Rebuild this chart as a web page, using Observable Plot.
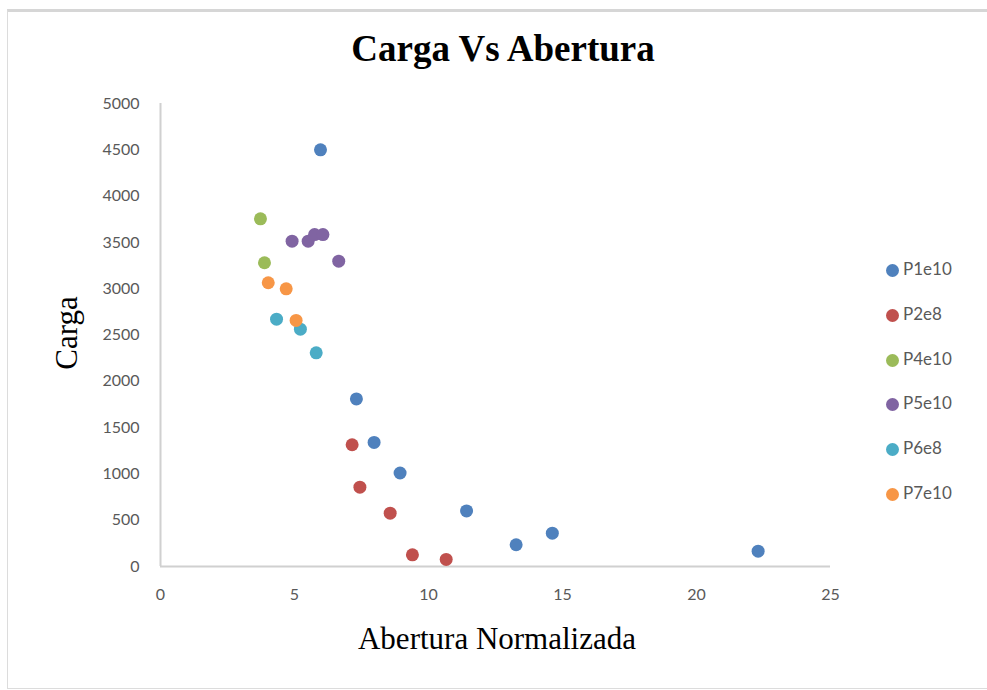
<!DOCTYPE html>
<html>
<head>
<meta charset="utf-8">
<script src="https://cdn.jsdelivr.net/npm/d3@7"></script>
<script src="https://cdn.jsdelivr.net/npm/@observablehq/plot@0.6"></script>
<style>
  html, body { margin: 0; padding: 0; background: #fff; }
  #wrap { position: relative; width: 987px; height: 690px; overflow: hidden; }
  #frame { position: absolute; left: 7px; top: 9px; width: 990px; height: 676px;
           border-top: 3px solid #d6d6d6; border-left: 1px solid #dcdcdc; border-bottom: 1px solid #dcdcdc; }
  #chart { position: absolute; left: 0; top: 0; }
  .title { position: absolute; left: 0; width: 1006px; top: 27px; text-align: center;
           font-family: "Liberation Serif", serif; font-weight: bold; font-size: 37px; color: #000; }
  .xlab { position: absolute; left: 160px; width: 674px; top: 621px; text-align: center;
          font-family: "Liberation Serif", serif; font-size: 31px; color: #000; }
  .ylab { position: absolute; left: 67px; top: 333px; transform: translate(-50%, -50%) rotate(-90deg);
          font-family: "Liberation Serif", serif; font-size: 31px; color: #000; white-space: nowrap; }
  .legend { position: absolute; left: 886px; top: 258px; font-family: Lato, sans-serif; font-size: 17px; color: #595959; }
  .legend .item { height: 44.8px; display: flex; align-items: flex-start; }
  .legend .sw { width: 13px; height: 13px; border-radius: 50%; margin-right: 4px; margin-top: 6px; }
</style>
</head>
<body>
<div id="wrap">
  <div id="frame"></div>
  <div id="chart"></div>
  <div class="title">Carga Vs Abertura</div>
  <div class="xlab">Abertura Normalizada</div>
  <div class="ylab">Carga</div>
  <div class="legend" id="legend"></div>
</div>
<script>
const seriesNames = ["P1e10", "P2e8", "P4e10", "P5e10", "P6e8", "P7e10"];
const seriesColors = ["#4F81BD", "#C0504D", "#9BBB59", "#8064A2", "#4BACC6", "#F79646"];

const P1e10_x = [5.97, 7.31, 7.97, 8.94, 11.42, 13.27, 14.62, 22.3];
const P1e10_y = [4500, 1810, 1340, 1010, 600, 235, 360, 165];
const P2e8_x = [7.15, 7.44, 8.57, 9.40, 10.66];
const P2e8_y = [1315, 857, 576, 126, 76];
const P4e10_x = [3.73, 3.88];
const P4e10_y = [3755, 3280];
const P5e10_x = [4.91, 5.51, 5.75, 6.06, 6.65];
const P5e10_y = [3513, 3513, 3585, 3585, 3297];
const P6e8_x = [4.33, 5.22, 5.81];
const P6e8_y = [2671, 2563, 2308];
const P7e10_x = [4.02, 4.69, 5.06];
const P7e10_y = [3064, 2999, 2657];

const xTicks = [0, 5, 10, 15, 20, 25];
const yTicks = [0, 500, 1000, 1500, 2000, 2500, 3000, 3500, 4000, 4500, 5000];

const seriesData = [
  [P1e10_x, P1e10_y], [P2e8_x, P2e8_y], [P4e10_x, P4e10_y],
  [P5e10_x, P5e10_y], [P6e8_x, P6e8_y], [P7e10_x, P7e10_y]
];
const rows = [];
seriesData.forEach(([xs, ys], i) => {
  xs.forEach((x, j) => rows.push({ series: seriesNames[i], x, y: ys[j] }));
});

const plot = Plot.plot({
  width: 987,
  height: 690,
  marginLeft: 160,
  marginRight: 157,
  marginTop: 103,
  marginBottom: 124,
  style: { fontFamily: "Lato, sans-serif", fontSize: "16px", color: "#595959", background: "transparent" },
  x: { domain: [0, 25], ticks: xTicks, label: null },
  y: { domain: [0, 5000], ticks: yTicks, label: null },
  color: { domain: seriesNames, range: seriesColors },
  marks: [
    Plot.axisX({ ticks: xTicks, tickSize: 0, tickPadding: 22, label: null, fontSize: 16, fill: "#595959", tickFormat: d => String(d) }),
    Plot.axisY({ ticks: yTicks, tickSize: 0, tickPadding: 21, label: null, fontSize: 16, fill: "#595959", tickFormat: d => String(d) }),
    Plot.ruleY([0], { stroke: "#d0d0d0", strokeWidth: 2 }),
    Plot.ruleX([0], { stroke: "#d0d0d0", strokeWidth: 2 }),
    Plot.dot(rows, { x: "x", y: "y", fill: "series", r: 6.5, stroke: "none" })
  ]
});
document.getElementById("chart").appendChild(plot);

const legend = document.getElementById("legend");
seriesNames.forEach((name, i) => {
  const item = document.createElement("div");
  item.className = "item";
  const sw = document.createElement("span");
  sw.className = "sw";
  sw.style.background = seriesColors[i];
  const t = document.createElement("span");
  t.textContent = name;
  item.appendChild(sw);
  item.appendChild(t);
  legend.appendChild(item);
});
</script>
</body>
</html>
